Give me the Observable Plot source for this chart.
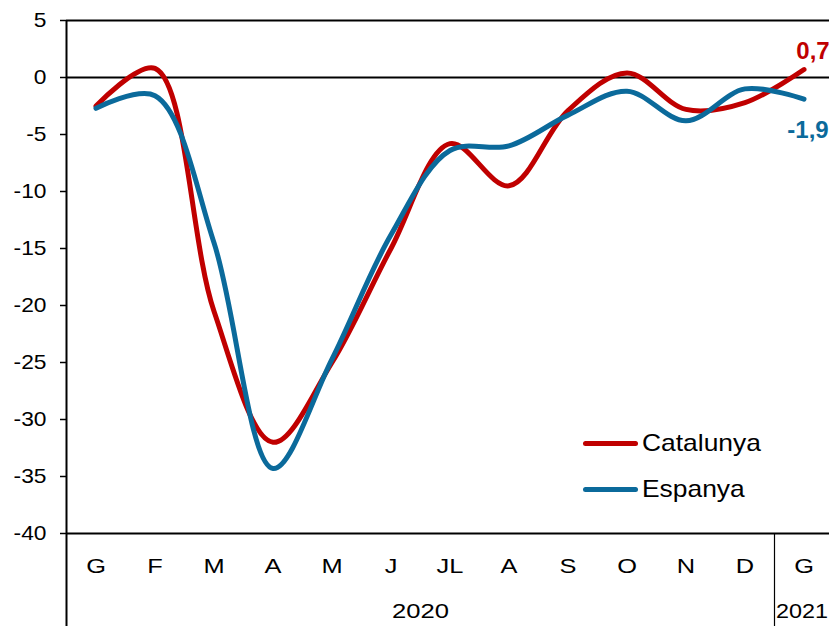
<!DOCTYPE html>
<html>
<head>
<meta charset="utf-8">
<script src="https://cdn.jsdelivr.net/npm/d3@7"></script>
<script src="https://cdn.jsdelivr.net/npm/@observablehq/plot@0.6"></script>
<style>
  html, body { margin: 0; padding: 0; background: #fff; }
  #wrap { position: relative; width: 829px; height: 626px; overflow: hidden; font-family: "Liberation Sans", Arial, sans-serif; }
  .leg { position: absolute; left: 583px; display: flex; align-items: center; font-size: 24px; color: #000; }
  .leg .sw { width: 55px; height: 5px; border-radius: 3px; margin-right: 4px; }
  .leg .tx { display: inline-block; transform: scaleX(1.1); transform-origin: left center; }
</style>
</head>
<body>
<div id="wrap"></div>
<script>
const months = ["G","F","M","A","M","J","JL","A","S","O","N","D","G"];
const years = [{label:"2020", pos:5.5}, {label:"2021", pos:12}];
const catalunya = [-2.5, 0.8, -20.5, -32.0, -25.0, -15.0, -5.8, -9.5, -2.9, 0.4, -2.8, -2.2, 0.7];
const espanya   = [-2.7, -1.6, -14.5, -34.3, -24.7, -13.8, -6.4, -6.0, -3.3, -1.2, -3.8, -1.0, -1.9];
const yTicks = [5, 0, -5, -10, -15, -20, -25, -30, -35, -40];
const seriesNames = ["Catalunya", "Espanya"];
const colors = ["#C00000", "#0B6A9B"];

const data = [];
seriesNames.forEach((s, k) => {
  const vals = k === 0 ? catalunya : espanya;
  vals.forEach((v, i) => data.push({series: s, i, v}));
});
const lastPts = seriesNames.map((s, k) => ({series: s, i: 12, v: (k === 0 ? catalunya : espanya)[12]}));
const fmt = v => v.toFixed(1).replace(".", ",");

const chart = Plot.plot({
  width: 829,
  height: 626,
  marginLeft: 66,
  marginRight: 0,
  marginTop: 20,
  marginBottom: 93,
  style: {fontFamily: "'Liberation Sans', Arial, sans-serif", fontSize: "20px", background: "#fff", color: "#000", overflow: "visible"},
  x: {domain: [-0.5, 12.5], range: [66, 833], axis: null},
  y: {domain: [-40, 5], axis: null},
  color: {domain: seriesNames, range: colors},
  marks: [
    Plot.axisY({ticks: yTicks, label: null, tickSize: 6, tickPadding: 14, tickFormat: d => String(d), fontSize: 20, stroke: "#000", strokeWidth: 1.5}),
    Plot.ruleY([5, 0, -40], {x1: -0.5, x2: 12.5, stroke: "#000", strokeWidth: 2}),
    Plot.ruleX([-0.5], {y1: 5, y2: -40, insetBottom: -93, stroke: "#000", strokeWidth: 2}),
    Plot.ruleX([11.5], {y1: -40, y2: -40, insetBottom: -93, stroke: "#000", strokeWidth: 1.2}),
    Plot.text(months, {x: (d, i) => i, y: -40, text: d => d, dy: 33, fontSize: 20.5, fill: "#000"}),
    Plot.text(years.slice(0,1), {x: "pos", y: -40, text: "label", dy: 78, fontSize: 20.5, fill: "#000"}),
    Plot.text(years.slice(1,2), {x: "pos", y: -40, text: "label", dy: 78, dx: -2, fontSize: 20.5, fill: "#000"}),
    Plot.line(data, {x: "i", y: "v", z: "series", stroke: "series", strokeWidth: 5, curve: "catmull-rom", strokeLinecap: "round", strokeLinejoin: "round"}),
    Plot.text(lastPts.slice(0,1), {x: "i", y: "v", text: d => fmt(d.v), fill: colors[0], fontWeight: "bold", fontSize: 24, dx: 9, dy: -18}),
    Plot.text(lastPts.slice(1,2), {x: "i", y: "v", text: d => fmt(d.v), fill: colors[1], fontWeight: "bold", fontSize: 24, dx: 4, dy: 31})
  ]
});

const wrap = document.getElementById("wrap");
wrap.appendChild(chart);

function stretchEls(els, s) {
  els.forEach(t => {
    const bb = t.getBBox();
    const anchor = getComputedStyle(t).textAnchor;
    let cx = bb.x + bb.width / 2;
    if (anchor === "end") cx = bb.x + bb.width;
    else if (anchor === "start") cx = bb.x;
    const prev = t.getAttribute("transform") || "";
    t.setAttribute("transform", `${prev} translate(${cx},0) scale(${s},1) translate(${-cx},0)`);
  });
}
stretchEls(Array.from(chart.querySelectorAll('g[aria-label="y-axis tick label"] text')), 1.14);
const textGroups = Array.from(chart.querySelectorAll('g[aria-label="text"]'));
if (textGroups[0]) stretchEls(Array.from(textGroups[0].querySelectorAll("text")), 1.24);
if (textGroups[1]) stretchEls(Array.from(textGroups[1].querySelectorAll("text")), 1.25);
if (textGroups[2]) stretchEls(Array.from(textGroups[2].querySelectorAll("text")), 1.14);

const legTops = [429, 475];
seriesNames.forEach((s, k) => {
  const el = document.createElement("div");
  el.className = "leg";
  el.style.top = legTops[k] + "px";
  const sw = document.createElement("span");
  sw.className = "sw";
  sw.style.background = colors[k];
  const tx = document.createElement("span");
  tx.className = "tx";
  tx.textContent = s;
  el.appendChild(sw);
  el.appendChild(tx);
  wrap.appendChild(el);
});
</script>
</body>
</html>
